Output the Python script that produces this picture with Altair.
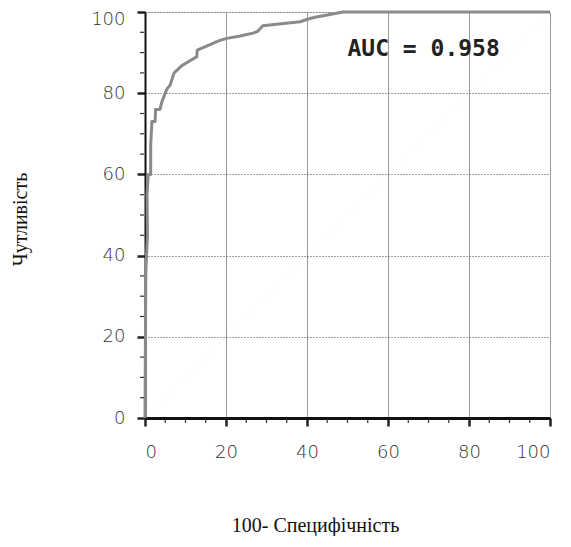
import altair as alt
import pandas as pd

# ROC curve points (100 - specificity, sensitivity)
roc_x = [0, 0.2, 0.6, 0.5, 0.8, 1.4, 1.4, 1.7, 2.5, 2.6, 3.7, 4.2, 5.4, 6.2, 7.2, 9.1,
         11.1, 12.8, 12.9, 15.2, 17.3, 18.5, 20.2, 23.5, 26.7, 27.9, 29.1, 32.5, 38.3,
         40.7, 42.0, 48.9, 100]
roc_y = [0, 36, 45, 55, 60, 60, 67, 73, 73, 76, 76, 78, 81, 82, 85, 86.8,
         88, 89, 90.6, 91.6, 92.5, 93, 93.5, 94.1, 94.8, 95.3, 96.6, 97, 97.6,
         98.4, 98.7, 100, 100]
diag = [0, 100]
major_ticks = [0, 20, 40, 60, 80, 100]
minor_ticks = [5, 10, 15, 25, 30, 35, 45, 50, 55, 65, 70, 75, 85, 90, 95]
auc_label = ["AUC = 0.958"]
auc_pos_x = [68.8]
auc_pos_y = [91.0]

roc_df = pd.DataFrame({"x": roc_x, "y": roc_y, "order": list(range(len(roc_x)))})
diag_df = pd.DataFrame({"x": diag, "y": diag})
minor_df = pd.DataFrame({"v": minor_ticks})
auc_df = pd.DataFrame({"x": auc_pos_x, "y": auc_pos_y, "t": auc_label})

W, H = 405, 406
xs = alt.Scale(domain=[0, 100], nice=False)
ys = alt.Scale(domain=[0, 100], nice=False)

label_font = "DejaVu Sans"

xaxis = alt.Axis(values=major_ticks, title="100- Специфічність", grid=True,
                 gridColor="#9a9a9a", gridWidth=1, tickSize=8, tickWidth=2.5,
                 tickColor="#222", domainColor="#111", domainWidth=3,
                 labelFont=label_font, labelFontSize=18, labelFontWeight=200,
                 labelColor="#333", labelPadding=17,
                 titleFont="Liberation Serif", titleFontSize=20, titleFontWeight="normal",
                 titleColor="#111", titleX=170, titleY=113, titleAlign="center",
                 titleBaseline="alphabetic")
yaxis = alt.Axis(values=major_ticks, title="Чутливість", grid=True,
                 gridColor="#444", gridWidth=1, gridDash=[1, 2], tickSize=8, tickWidth=2.5,
                 tickColor="#222", domainColor="#111", domainWidth=2,
                 labelFont=label_font, labelFontSize=18, labelFontWeight=200,
                 labelColor="#333", labelPadding=12,
                 labelOffset=alt.expr("datum.value == 100 ? 7 : 0"),
                 titleFont="Liberation Serif", titleFontSize=20, titleFontWeight="normal",
                 titleColor="#111", titleX=-125, titleY=207, titleAngle=270,
                 titleAlign="center", titleBaseline="middle")

base_axes = alt.Chart(roc_df).mark_line(opacity=0).encode(
    x=alt.X("x:Q", scale=xs, axis=xaxis),
    y=alt.Y("y:Q", scale=ys, axis=yaxis),
)

diag_line = alt.Chart(diag_df).mark_line(color="#dddddd", strokeWidth=1, strokeDash=[1, 6]).encode(
    x=alt.X("x:Q", scale=xs), y=alt.Y("y:Q", scale=ys))

curve = alt.Chart(roc_df).mark_line(color="#8a8a8a", strokeWidth=3, strokeJoin="round").encode(
    x=alt.X("x:Q", scale=xs), y=alt.Y("y:Q", scale=ys), order="order:Q")

minor_x = alt.Chart(minor_df).mark_rule(color="#333", strokeWidth=1.2).encode(
    x=alt.X("v:Q", scale=xs), y=alt.value(H + 1), y2=alt.value(H + 5))
minor_y = alt.Chart(minor_df).mark_rule(color="#333", strokeWidth=1.2).encode(
    y=alt.Y("v:Q", scale=ys), x=alt.value(-5), x2=alt.value(-1))

auc = alt.Chart(auc_df).mark_text(font="DejaVu Sans Mono", fontSize=23, fontWeight="bold",
                                  color="#222", align="center", baseline="middle").encode(
    x=alt.X("x:Q", scale=xs), y=alt.Y("y:Q", scale=ys), text="t:N")

chart = alt.layer(base_axes, diag_line, curve, minor_x, minor_y, auc).properties(
    width=W, height=H,
    autosize=alt.AutoSizeParams(type="none"),
    padding={"left": 137, "top": 4, "right": 12, "bottom": 118},
).configure_view(stroke="#111", strokeWidth=2.5).configure(background="white")

chart.save("out.html", embed_options={"renderer": "svg", "actions": False})
